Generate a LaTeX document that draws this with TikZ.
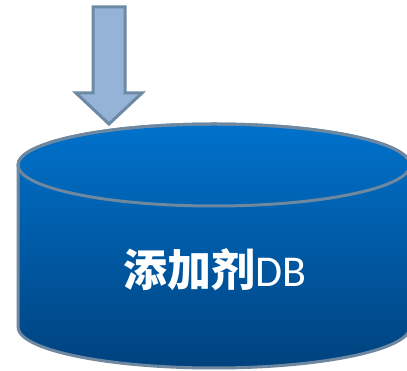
\documentclass[tikz,border=0pt]{standalone}
\usepackage{fontspec}
\newfontfamily\cjk{Noto Sans CJK SC}
\newfontfamily\latin{Carlito}
\definecolor{edgec}{HTML}{6E88A0}
\definecolor{topc}{HTML}{0072CC}
\definecolor{botc}{HTML}{00427E}
\definecolor{arrowfill}{HTML}{95B3D7}
\definecolor{arrowedge}{HTML}{6C8AA6}
\tikzset{
  cylbody/.style={draw=edgec, line width=3pt, top color=topc, bottom color=botc},
  cyledge/.style={draw=edgec, line width=3pt},
  bigarrow/.style={draw=arrowedge, fill=arrowfill, line width=3pt, line join=miter},
  lbl/.style={text=white, inner sep=0pt, font=\fontsize{44}{48}\selectfont}
}
\begin{document}
\begin{tikzpicture}[x=1pt,y=1pt]
\useasboundingbox (0,0) rectangle (407,371);
\clip (0,0) rectangle (407,371);
% cylinder body
\path[cylbody] (18,206) -- (18,44) arc[start angle=180, end angle=360, x radius=196, y radius=41]
  -- (410,206) arc[start angle=0, end angle=180, x radius=196, y radius=41] -- cycle;
\draw[cyledge] (214,206) ellipse[x radius=196, y radius=41];
\coordinate (top) at (109,247);
% arrow
\draw[bigarrow] (93,364) -- (125,364) -- (125,278) -- (142,278) -- (top) -- (76,278) -- (93,278) -- cycle;
\node[lbl] (db) at (215,101) {{\cjk\bfseries 添加剂}{\latin DB}};
\end{tikzpicture}
\end{document}
